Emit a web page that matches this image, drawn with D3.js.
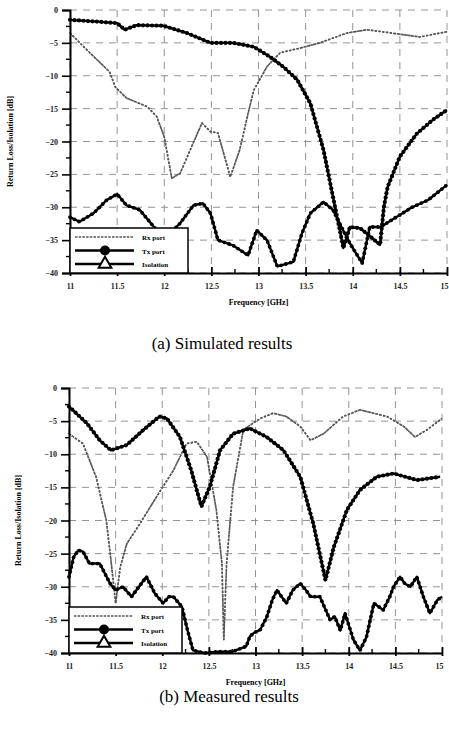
<!DOCTYPE html>
<html>
<head>
<meta charset="utf-8">
<script src="https://cdn.jsdelivr.net/npm/d3@7"></script>
<style>
  body { margin: 0; background: #fff; }
  svg text { font-family: "Liberation Serif", "DejaVu Serif", serif; }
</style>
</head>
<body>
<div class="canvas"></div>
<script>
// ---- data ----
const yTicks = [0, -5, -10, -15, -20, -25, -30, -35, -40];
const xTicksA = ['11', '11.5', '12', '12.5', '13', '13.5', '14', '14.5', '15'];
const xTicksB = ['11', '11.5', '12', '12.5', '13', '13.5', '14', '14.5', '15'];
const legendNames = ['Rx port', 'Tx port', 'Isolation'];

// (a) simulated
const freqRxA = [11, 11.21, 11.42, 11.48, 11.6, 11.82, 11.92, 12.0, 12.08, 12.17, 12.29, 12.4, 12.49, 12.57, 12.7, 12.8, 12.89, 12.95, 13.09, 13.23, 13.44, 13.65, 13.94, 14.15, 14.36, 14.71, 15];
const rxA = [-3.5, -6.5, -9.4, -11.7, -13.4, -14.7, -16.2, -19.3, -25.6, -24.8, -20.8, -17.2, -18.5, -18.7, -25.4, -21.3, -15.7, -12.2, -8.6, -6.5, -5.8, -5.0, -3.5, -3.0, -3.4, -4.1, -3.3];

const freqTxA = [11, 11.32, 11.5, 11.58, 11.71, 11.99, 12.24, 12.49, 12.73, 12.95, 13.12, 13.26, 13.41, 13.55, 13.69, 13.79, 13.87, 13.9, 13.97, 14.08, 14.29, 14.33, 14.37, 14.5, 14.68, 14.85, 15];
const txA = [-1.5, -1.8, -2.0, -3.0, -2.3, -2.4, -3.5, -5.0, -5.0, -5.6, -7.1, -8.6, -10.6, -14.2, -21.3, -28.4, -34, -36.2, -33, -33.2, -35.7, -30, -26.9, -22.3, -18.8, -16.7, -15.2];

const freqIsoA = [11, 11.1, 11.25, 11.39, 11.5, 11.6, 11.74, 11.92, 12.06, 12.17, 12.31, 12.41, 12.49, 12.57, 12.73, 12.89, 12.98, 13.09, 13.2, 13.37, 13.46, 13.55, 13.69, 13.79, 13.88, 13.97, 14.1, 14.18, 14.3, 14.35, 14.63, 14.8, 15];
const isoA = [-31.5, -32.2, -30.9, -28.9, -28, -29.7, -30.4, -33.5, -34, -32.4, -29.7, -29.4, -30.9, -35, -35.8, -37.3, -33.5, -35, -39, -38.3, -34, -30.9, -29.2, -30.4, -33, -35.5, -38.5, -33, -33, -32.5, -30, -28.9, -26.6];

// (b) measured
const freqRxB = [11, 11.15, 11.29, 11.4, 11.45, 11.5, 11.55, 11.62, 11.76, 11.94, 12.12, 12.26, 12.37, 12.48, 12.58, 12.64, 12.66, 12.69, 12.76, 12.87, 13.05, 13.19, 13.33, 13.48, 13.59, 13.73, 13.94, 14.12, 14.41, 14.59, 14.71, 14.84, 15];
const rxB = [-6.9, -8.4, -13.4, -20, -26, -32.5, -27, -23.5, -20.5, -16.4, -12.4, -8.4, -8.1, -10.4, -18.4, -26.5, -38, -26.5, -14.9, -6.3, -4.6, -3.8, -4.3, -5.8, -7.9, -6.9, -4.3, -3.3, -4.3, -5.8, -7.4, -6.3, -4.6];

const freqTxB = [11, 11.19, 11.33, 11.45, 11.62, 11.8, 11.97, 12.05, 12.19, 12.31, 12.42, 12.51, 12.62, 12.76, 12.94, 13.12, 13.3, 13.48, 13.62, 13.75, 13.84, 13.98, 14.12, 14.3, 14.48, 14.73, 14.98];
const txB = [-2.8, -5.3, -7.9, -9.4, -8.6, -6.3, -4.3, -4.6, -7.4, -12.4, -17.9, -14.9, -9.4, -6.9, -6.1, -7.4, -9.4, -13.4, -20.5, -29, -24, -18.4, -15.4, -13.4, -12.9, -13.9, -13.4];

const freqIsoB = [11, 11.05, 11.1, 11.15, 11.22, 11.33, 11.44, 11.5, 11.58, 11.67, 11.75, 11.83, 11.92, 12.01, 12.07, 12.12, 12.21, 12.27, 12.33, 12.45, 12.6, 12.75, 12.9, 12.94, 12.98, 13.05, 13.12, 13.18, 13.23, 13.28, 13.33, 13.4, 13.48, 13.54, 13.59, 13.69, 13.8, 13.85, 13.91, 13.96, 14.05, 14.12, 14.19, 14.23, 14.27, 14.37, 14.44, 14.48, 14.55, 14.6, 14.66, 14.73, 14.8, 14.87, 14.95, 15];
const isoB = [-28.5, -25.5, -24.5, -24.7, -26.5, -26.5, -29.5, -30.5, -30, -31.5, -30, -28.5, -31, -32.5, -31.5, -31.5, -33, -36.5, -39.6, -40, -39.8, -39.8, -39, -37.5, -37, -36.5, -34.6, -32, -30.5, -31.5, -32.5, -30.5, -29.5, -30.5, -31.5, -31.5, -35, -34.5, -36.6, -34, -38, -39.6, -37.6, -35, -32.5, -33.5, -31.5, -30, -28.5, -29.5, -30, -28.5, -31.5, -34, -32, -31.5];

const svg = d3.select('.canvas')
  .append('svg')
  .attr('width', 449)
  .attr('height', 733);

const zip = (fs, vs) => fs.map((f, i) => ({ f: f, v: vs[i] }));

const drawPanel = (p) => {
  const x = d3.scaleLinear().domain([11, 15]).range([p.left, p.right]);
  const y = d3.scaleLinear().domain([-40, 0]).range([p.bottom, p.top]);

  const g = svg.append('g');

  // dashed grid
  g.selectAll('.hgrid')
    .data(yTicks)
    .enter()
    .append('line')
    .attr('x1', p.left).attr('x2', p.right)
    .attr('y1', d => y(d)).attr('y2', d => y(d))
    .attr('stroke', '#888')
    .attr('stroke-width', 0.9)
    .attr('stroke-dasharray', '7,6');

  g.selectAll('.vgrid')
    .data(p.xTicks)
    .enter()
    .append('line')
    .attr('x1', d => x(+d)).attr('x2', d => x(+d))
    .attr('y1', p.top).attr('y2', p.bottom)
    .attr('stroke', '#888')
    .attr('stroke-width', 0.9)
    .attr('stroke-dasharray', '7,6');

  // curves
  const line = d3.line().x(d => x(d.f)).y(d => y(d.v));

  p.series.forEach(s => {
    const path = g.append('path')
      .datum(zip(s.f, s.v))
      .attr('d', line)
      .attr('fill', 'none')
      .attr('stroke', s.color)
      .attr('stroke-width', s.width)
      .attr('stroke-linejoin', 'round')
      .attr('stroke-dasharray', s.dash || null);

    // dense marker beads along the path
    const node = path.node();
    const len = node.getTotalLength();
    const pts = d3.range(0, len, s.step).map(l => node.getPointAtLength(l));
    g.selectAll(null)
      .data(pts)
      .enter()
      .append('circle')
      .attr('cx', d => d.x)
      .attr('cy', d => d.y)
      .attr('r', s.r)
      .attr('fill', s.color);
  });

  // axes
  const yAxis = d3.axisLeft(y)
    .tickValues(yTicks)
    .tickSize(8)
    .tickPadding(4)
    .tickFormat(d => d === 0 ? '0' : d3.format('d')(d));
  const yAx = g.append('g')
    .attr('transform', `translate(${p.left},0)`)
    .call(yAxis);
  yAx.select('.domain').attr('stroke-width', 2);
  yAx.selectAll('.tick line').attr('stroke-width', 1.6);
  yAx.selectAll('text')
    .attr('font-size', '8px')
    .attr('font-weight', 'bold')
    .attr('fill', '#222');

  g.selectAll('.yminor')
    .data(d3.range(-37.5, 0, 5))
    .enter()
    .append('line')
    .attr('x1', p.left - 4).attr('x2', p.left)
    .attr('y1', d => y(d)).attr('y2', d => y(d))
    .attr('stroke', '#000')
    .attr('stroke-width', 1.4);

  const xAxis = d3.axisBottom(x)
    .tickValues(p.xTicks.map(Number))
    .tickSizeInner(-6)
    .tickSizeOuter(0)
    .tickPadding(10)
    .tickFormat((d, i) => p.xTicks[i]);
  const xAx = g.append('g')
    .attr('transform', `translate(0,${p.bottom})`)
    .call(xAxis);
  xAx.select('.domain').attr('stroke-width', 2);
  xAx.selectAll('.tick line').attr('stroke-width', 1.8).attr('y2', 3).attr('y1', -6);
  xAx.selectAll('text')
    .attr('font-size', '8px')
    .attr('font-weight', 'bold')
    .attr('fill', '#222');
  // keep the last label inside the window
  xAx.selectAll('.tick:last-of-type text').attr('dx', -3);

  g.selectAll('.xminor')
    .data(d3.range(11.25, 15, 0.5))
    .enter()
    .append('line')
    .attr('x1', d => x(d)).attr('x2', d => x(d))
    .attr('y1', p.bottom - 4).attr('y2', p.bottom)
    .attr('stroke', '#000')
    .attr('stroke-width', 1.4);

  // axis titles
  g.append('text')
    .attr('transform', `translate(${p.yTitleX},${(p.top + p.bottom) / 2}) rotate(-90)`)
    .attr('text-anchor', 'middle')
    .attr('font-size', '8px')
    .attr('font-weight', 'bold')
    .text('Return Loss/Isolation [dB]');

  g.append('text')
    .attr('x', (p.left + p.right) / 2)
    .attr('y', p.bottom + 32)
    .attr('text-anchor', 'middle')
    .attr('font-size', '8px')
    .attr('font-weight', 'bold')
    .text('Frequency [GHz]');

  g.append('text')
    .attr('x', p.captionX)
    .attr('y', p.captionY)
    .attr('text-anchor', 'middle')
    .attr('font-size', '17px')
    .text(p.caption);

  // legend
  const lg = g.append('g');
  lg.append('rect')
    .attr('x', p.left)
    .attr('y', p.legendTop)
    .attr('width', p.legendW)
    .attr('height', p.bottom - p.legendTop)
    .attr('fill', '#fff')
    .attr('stroke', '#000')
    .attr('stroke-width', 1.5);

  p.series.forEach((s, i) => {
    const ly = p.legendTop + 9 + i * 13.5;
    lg.append('line')
      .attr('x1', p.left + 5).attr('x2', p.left + 64)
      .attr('y1', ly).attr('y2', ly)
      .attr('stroke', s.color)
      .attr('stroke-width', s.width)
      .attr('stroke-dasharray', s.dash || null);
    if (s.marker === 'circle') {
      lg.append('circle')
        .attr('cx', p.left + 35).attr('cy', ly).attr('r', 5)
        .attr('fill', '#000');
    } else if (s.marker === 'triangle') {
      lg.append('path')
        .attr('d', d3.symbol().type(d3.symbolTriangle).size(70))
        .attr('transform', `translate(${p.left + 35},${ly})`)
        .attr('fill', '#fff')
        .attr('stroke', '#000')
        .attr('stroke-width', 2);
    }
    lg.append('text')
      .attr('x', p.left + 72)
      .attr('y', ly + 3)
      .attr('font-size', '7px')
      .attr('font-weight', 'bold')
      .text(legendNames[i]);
  });
};

const styleRx = { color: '#555', width: 1.6, dash: '2.5,1.2', r: 0.9, step: 4, marker: null };
const styleTx = { color: '#000', width: 2.4, r: 2.1, step: 4.5, marker: 'circle' };
const styleIso = { color: '#000', width: 2.4, r: 1.9, step: 5, marker: 'triangle' };

drawPanel({
  left: 70, right: 447, top: 10, bottom: 273,
  xTicks: xTicksA,
  yTitleX: 13,
  captionX: 222, captionY: 349,
  caption: '(a) Simulated results',
  legendTop: 228, legendW: 118,
  series: [
    Object.assign({ f: freqRxA, v: rxA }, styleRx),
    Object.assign({ f: freqTxA, v: txA }, styleTx),
    Object.assign({ f: freqIsoA, v: isoA }, styleIso)
  ]
});

drawPanel({
  left: 69, right: 442, top: 388, bottom: 653,
  xTicks: xTicksB,
  yTitleX: 21,
  captionX: 229, captionY: 702,
  caption: '(b) Measured results',
  legendTop: 607, legendW: 113,
  series: [
    Object.assign({ f: freqRxB, v: rxB }, styleRx),
    Object.assign({ f: freqTxB, v: txB }, styleTx),
    Object.assign({ f: freqIsoB, v: isoB }, styleIso)
  ]
});
</script>
</body>
</html>
